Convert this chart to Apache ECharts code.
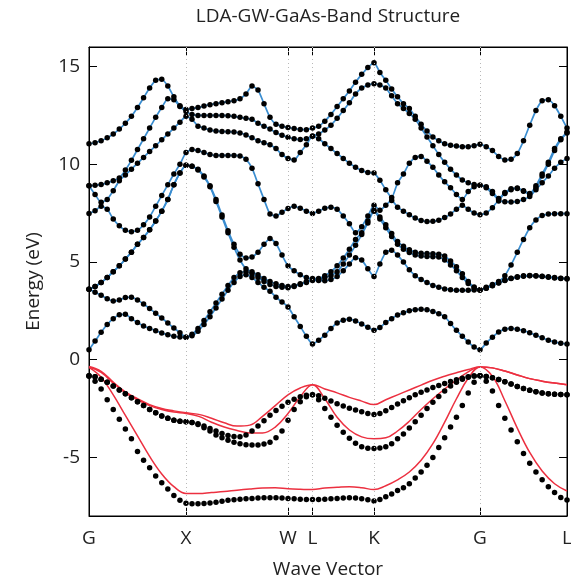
<!DOCTYPE html>
<html>
<head>
<meta charset="utf-8">
<script src="https://cdn.jsdelivr.net/npm/echarts@6/dist/echarts.min.js"></script>
<style>
  html, body { margin: 0; padding: 0; background: #fff; }
  #chart { width: 571px; height: 581px; }
</style>
</head>
<body>
<div id="chart"></div>
<script>
// k-path: high-symmetry points and their distances along the path
const kNodes = [0, 0.97, 1.99, 2.235, 2.85, 3.91, 4.78];
const kLabels = ['G', 'X', 'W', 'L', 'K', 'G', 'L'];
// number of k-intervals per path segment (G-X, X-W, W-L, L-K, K-G, G-L)
const gwSteps = [16, 17, 4, 10, 18, 14];
const ldaSteps = [8, 8, 2, 5, 9, 7];
const energyTicks = [-5, 0, 5, 10, 15];

// GW bands (eV), sampled on the gwSteps k-grid
const vb1 = [-0.85,-1.1,-1.5,-2.05,-2.55,-3.05,-3.55,-4.05,-4.7,-5.15,-5.53,-5.95,-6.3,-6.62,-6.95,-7.2,-7.35,
  -7.37,-7.37,-7.36,-7.33,-7.3,-7.25,-7.2,-7.17,-7.14,-7.12,-7.1,-7.08,-7.07,-7.06,-7.07,-7.08,-7.1,
  -7.12,-7.14,-7.15,-7.15,
  -7.15,-7.14,-7.12,-7.1,-7.08,-7.07,-7.08,-7.12,-7.17,-7.23,
  -7.15,-7.02,-6.88,-6.7,-6.55,-6.35,-6.05,-5.75,-5.4,-5.0,-4.5,-4.0,-3.45,-2.95,-2.35,-1.7,-1.15,-0.82,
  -1.1,-1.6,-2.35,-3.0,-3.6,-4.2,-4.8,-5.3,-5.75,-6.15,-6.5,-6.8,-7.05,-7.18];
const vb2 = [-0.82,-0.88,-1.0,-1.15,-1.35,-1.55,-1.75,-1.95,-2.15,-2.35,-2.55,-2.72,-2.88,-3.0,-3.1,-3.15,-3.18,
  -3.22,-3.32,-3.48,-3.65,-3.85,-4.0,-4.12,-4.22,-4.3,-4.35,-4.37,-4.37,-4.32,-4.22,-4.0,-3.65,-3.1,
  -2.55,-2.15,-1.9,-1.79,
  -2.05,-2.5,-2.95,-3.35,-3.72,-4.02,-4.28,-4.45,-4.53,-4.55,
  -4.52,-4.45,-4.3,-4.05,-3.8,-3.5,-3.18,-2.85,-2.5,-2.18,-1.88,-1.6,-1.35,-1.15,-1.0,-0.9,-0.84,-0.82,
  -0.86,-0.92,-1.02,-1.13,-1.25,-1.37,-1.48,-1.57,-1.64,-1.7,-1.74,-1.77,-1.78,-1.79];
const vb3 = [-0.82,-0.88,-1.0,-1.15,-1.35,-1.55,-1.75,-1.95,-2.15,-2.35,-2.55,-2.72,-2.88,-3.0,-3.1,-3.15,-3.18,
  -3.22,-3.28,-3.4,-3.52,-3.65,-3.78,-3.88,-3.93,-3.95,-3.85,-3.65,-3.4,-3.12,-2.85,-2.6,-2.38,-2.18,
  -2.02,-1.9,-1.82,-1.79,
  -1.85,-1.98,-2.12,-2.25,-2.37,-2.48,-2.58,-2.67,-2.75,-2.81,
  -2.75,-2.62,-2.45,-2.27,-2.1,-1.95,-1.8,-1.67,-1.55,-1.43,-1.32,-1.22,-1.12,-1.03,-0.95,-0.88,-0.84,-0.82,
  -0.86,-0.92,-1.02,-1.13,-1.25,-1.37,-1.48,-1.57,-1.64,-1.7,-1.74,-1.77,-1.78,-1.79];

const cb1 = [0.51,0.95,1.4,1.8,2.1,2.3,2.32,2.1,1.9,1.72,1.6,1.48,1.36,1.27,1.2,1.16,1.15,
  1.22,1.45,1.8,2.2,2.65,3.1,3.55,3.95,4.25,4.35,4.2,3.95,3.7,3.5,3.2,2.95,2.7,
  2.2,1.7,1.2,0.8,
  1.0,1.25,1.6,1.88,2.02,2.07,1.98,1.83,1.66,1.5,
  1.65,1.9,2.1,2.28,2.4,2.5,2.56,2.58,2.55,2.47,2.35,2.2,1.85,1.5,1.2,0.9,0.65,0.51,
  0.85,1.15,1.42,1.56,1.6,1.56,1.48,1.38,1.25,1.12,1.0,0.9,0.84,0.8];
const cb2 = [3.6,3.45,3.3,3.12,3.0,3.05,3.18,3.2,3.05,2.85,2.62,2.38,2.13,1.88,1.62,1.38,1.15,
  1.3,1.6,2.0,2.45,2.9,3.35,3.8,4.2,4.45,4.5,4.4,4.2,4.0,3.85,3.75,3.7,3.68,
  3.75,3.85,3.95,4.05,
  4.05,4.04,4.1,4.25,4.55,4.9,5.22,5.1,4.65,4.25,
  4.9,5.5,5.6,5.35,5.0,4.6,4.3,4.1,3.95,3.8,3.7,3.62,3.58,3.55,3.55,3.55,3.56,3.57,
  3.65,3.78,3.92,4.05,4.15,4.22,4.27,4.29,4.28,4.25,4.22,4.18,4.15,4.13];
const cb3 = [3.6,3.75,3.95,4.2,4.5,4.8,5.15,5.5,5.9,6.25,6.65,7.1,7.6,8.2,8.95,9.55,9.95,
  9.9,9.7,9.35,8.85,8.1,7.3,6.5,5.75,5.1,4.65,4.5,4.35,4.15,4.0,3.88,3.8,3.75,
  3.78,3.88,4.0,4.1,
  4.1,4.2,4.3,4.5,4.9,5.35,5.85,6.4,7.0,7.6,
  7.2,6.75,6.3,5.9,5.65,5.48,5.35,5.3,5.28,5.27,5.25,5.1,4.85,4.55,4.2,3.9,3.68,3.57,
  3.66,3.8,3.94,4.07,4.17,4.24,4.29,4.31,4.3,4.27,4.24,4.2,4.17,4.15];
const cb4 = [3.6,3.75,3.95,4.2,4.5,4.8,5.15,5.5,5.9,6.25,6.65,7.1,7.6,8.2,8.95,9.55,9.95,
  9.9,9.75,9.4,8.9,8.2,7.4,6.6,5.9,5.4,5.2,5.25,5.5,5.9,6.2,5.95,5.35,4.8,
  4.55,4.35,4.2,4.15,
  4.15,4.3,4.5,4.8,5.2,5.65,6.15,6.5,7.1,7.65,
  7.3,6.9,6.45,6.05,5.8,5.62,5.5,5.45,5.43,5.42,5.4,5.3,5.05,4.75,4.4,4.0,3.72,3.57,
  3.7,3.85,4.0,4.3,4.85,5.5,6.15,6.75,7.15,7.38,7.45,7.47,7.47,7.47];
const cb5 = [7.48,7.62,7.85,7.7,7.2,6.85,6.62,6.55,6.62,6.9,7.3,7.85,8.4,8.95,9.5,10.0,10.6,
  10.75,10.7,10.6,10.5,10.45,10.45,10.45,10.45,10.42,10.25,9.8,9.0,8.2,7.45,7.35,7.55,7.74,
  7.85,7.75,7.6,7.48,
  7.6,7.75,7.8,7.7,7.35,6.95,6.5,6.8,7.35,7.9,
  7.65,7.9,8.15,7.8,7.6,7.42,7.25,7.12,7.07,7.08,7.14,7.27,7.45,7.7,7.9,7.7,7.5,7.42,
  7.5,7.78,8.12,8.08,8.07,8.1,8.2,8.35,8.7,9.05,9.4,9.8,10.1,10.3];
const cb6 = [8.9,8.45,8.05,8.2,8.65,9.15,9.45,9.75,10.05,10.35,10.65,10.95,11.25,11.55,11.85,12.15,12.45,
  12.3,11.95,11.85,11.75,11.7,11.68,11.66,11.65,11.6,11.5,11.35,11.2,11.1,11.0,10.8,10.5,10.3,
  10.22,10.6,11.0,11.43,
  11.3,11.05,10.8,10.55,10.3,10.05,9.85,9.68,9.58,9.55,
  9.18,8.7,8.3,9.05,9.5,10.05,10.35,10.4,10.15,9.85,9.45,9.1,8.8,8.45,8.2,8.6,8.85,8.93,
  8.8,8.5,8.2,8.5,8.7,8.76,8.62,8.45,8.8,9.4,10.0,10.7,11.25,11.6];
const cb7 = [8.9,8.92,8.97,9.05,9.15,9.3,9.7,10.2,10.75,11.3,11.85,12.4,12.9,13.35,13.3,12.95,12.7,
  12.55,12.5,12.5,12.5,12.5,12.5,12.48,12.45,12.4,12.35,12.3,12.1,11.95,11.8,11.62,11.48,11.38,
  11.3,11.27,11.3,11.45,
  11.55,11.75,12.0,12.35,12.75,13.15,13.6,13.9,14.05,14.12,
  14.05,13.9,13.5,13.1,12.85,12.6,12.3,11.85,11.4,10.95,10.5,10.1,9.75,9.45,9.2,9.05,8.96,8.93,
  8.85,8.6,8.25,8.55,8.74,8.78,8.65,8.5,8.9,9.5,10.1,10.8,11.3,11.65];
const cb8 = [11.05,11.1,11.2,11.35,11.55,11.8,12.1,12.45,12.9,13.4,13.9,14.3,14.35,14.0,13.45,13.0,12.8,
  12.85,12.9,12.98,13.05,13.1,13.15,13.2,13.25,13.35,13.6,14.0,13.8,13.1,12.4,12.05,11.95,11.88,
  11.83,11.78,11.77,11.85,
  11.95,12.2,12.55,12.95,13.35,13.75,14.2,14.6,14.95,15.2,
  14.7,14.3,13.85,13.45,13.1,12.85,12.45,12.05,11.7,11.4,11.2,11.05,10.97,10.93,10.9,10.9,10.95,11.02,
  10.9,10.7,10.4,10.22,10.25,10.55,11.2,12.0,12.75,13.25,13.3,13.0,12.45,11.85];

// LDA valence bands (eV), sampled on the ldaSteps k-grid
const ldaVb1 = [-0.4,-0.9,-1.8,-2.85,-3.9,-4.95,-5.85,-6.5,-6.85,
  -6.85,-6.8,-6.75,-6.68,-6.62,-6.57,-6.55,-6.6,
  -6.63,-6.65,
  -6.57,-6.53,-6.5,-6.55,-6.65,
  -6.45,-6.15,-5.75,-5.15,-4.3,-3.2,-2.0,-0.95,-0.37,
  -0.85,-2.1,-3.5,-4.75,-5.7,-6.35,-6.72];
const ldaVb2 = [-0.38,-0.65,-1.2,-1.7,-2.05,-2.35,-2.55,-2.68,-2.75,
  -2.9,-3.2,-3.45,-3.62,-3.75,-3.75,-3.45,-2.75,
  -1.9,-1.28,
  -2.0,-2.95,-3.6,-3.95,-4.05,
  -4.0,-3.65,-3.15,-2.55,-2.0,-1.5,-1.05,-0.62,-0.37,
  -0.42,-0.58,-0.78,-0.97,-1.1,-1.2,-1.28];
const ldaVb3 = [-0.35,-0.6,-1.15,-1.65,-2.0,-2.3,-2.5,-2.62,-2.72,
  -2.8,-3.0,-3.23,-3.4,-3.35,-2.9,-2.35,-1.8,
  -1.45,-1.28,
  -1.5,-1.7,-1.93,-2.12,-2.3,
  -2.05,-1.8,-1.55,-1.3,-1.05,-0.85,-0.67,-0.5,-0.37,
  -0.42,-0.58,-0.78,-0.97,-1.1,-1.2,-1.28];

const gwBands = [cb1, cb2, cb3, cb4, cb5, cb6, cb7, cb8];
const gwValence = [vb1, vb2, vb3];
const ldaValence = [ldaVb1, ldaVb2, ldaVb3];

function pathGrid(steps) {
  const ks = [kNodes[0]];
  steps.forEach((n, s) => {
    const a = kNodes[s], b = kNodes[s + 1];
    for (let i = 1; i <= n; i++) ks.push(a + (b - a) * i / n);
  });
  return ks;
}
const gwK = pathGrid(gwSteps);
const ldaK = pathGrid(ldaSteps);
const pair = (ks, es) => es.map((e, i) => [ks[i], e]);

const FONT = 'Open Sans, DejaVu Sans, sans-serif';
const BLUE = '#3a8dd0';
const RED = '#ec3040';
const FS = 19;

const series = [];
gwBands.forEach((band, i) => {
  const s = {
    type: 'line', data: pair(gwK, band), showSymbol: false, smooth: 0.2,
    lineStyle: { color: BLUE, width: 1.7 }, z: 2, silent: true
  };
  if (i === 0) {
    s.markLine = {
      silent: true, symbol: ['none', 'none'], label: { show: false },
      lineStyle: { color: '#b8b8b8', type: [1, 3], width: 1 },
      data: kNodes.slice(1, -1).map(k => ({ xAxis: k }))
    };
  }
  series.push(s);
});
ldaValence.forEach(band => {
  series.push({
    type: 'line', data: pair(ldaK, band), showSymbol: false, smooth: 0.4,
    lineStyle: { color: RED, width: 1.5 }, z: 2, silent: true
  });
});
gwBands.concat(gwValence).forEach(band => {
  series.push({
    type: 'scatter', data: pair(gwK, band), symbolSize: 5.5,
    itemStyle: { color: '#000', opacity: 1 }, z: 4, silent: true
  });
});

function kLabel(v) {
  const i = kNodes.findIndex(k => Math.abs(k - v) < 1e-6);
  return i >= 0 ? kLabels[i] : '';
}

const chart = echarts.init(document.getElementById('chart'), null, { renderer: 'canvas' });
chart.setOption({
  animation: false,
  backgroundColor: '#fff',
  graphic: [{
    type: 'text', x: 328, y: 17,
    style: { text: 'LDA-GW-GaAs-Band Structure', fill: '#222', font: FS + 'px ' + FONT,
             textAlign: 'center', textVerticalAlign: 'middle' }
  }],
  grid: { left: 89, right: 4, top: 47, bottom: 65, containLabel: false,
          outerBoundsMode: 'none',
          show: true, borderColor: '#000', borderWidth: 1 },
  xAxis: [{
    type: 'value', min: 0, max: kNodes[kNodes.length - 1], position: 'bottom',
    name: 'Wave Vector', nameLocation: 'middle', nameGap: 44,
    nameTextStyle: { fontSize: FS, color: '#222', fontFamily: FONT },
    axisLine: { show: true, onZero: false, lineStyle: { color: '#000', width: 1 } },
    axisTick: { show: true, inside: true, length: 8, customValues: kNodes.slice(1, -1),
                lineStyle: { color: '#000' } },
    axisLabel: { customValues: kNodes, formatter: kLabel, margin: 13, fontSize: FS,
                 color: '#222', fontFamily: FONT },
    splitLine: { show: false }
  }, {
    type: 'value', min: 0, max: kNodes[kNodes.length - 1], position: 'top',
    axisLine: { show: true, onZero: false, lineStyle: { color: '#000', width: 1 } },
    axisTick: { show: true, inside: true, length: 8, customValues: kNodes.slice(1, -1),
                lineStyle: { color: '#000' } },
    axisLabel: { show: false }, splitLine: { show: false }
  }],
  yAxis: [{
    type: 'value', min: -8, max: 16, position: 'left',
    name: 'Energy (eV)', nameLocation: 'middle', nameGap: 46,
    nameTextStyle: { fontSize: FS, color: '#222', fontFamily: FONT },
    axisLine: { show: true, onZero: false, lineStyle: { color: '#000', width: 1 } },
    axisTick: { show: true, inside: true, length: 8, customValues: energyTicks,
                lineStyle: { color: '#000' } },
    axisLabel: { customValues: energyTicks, margin: 9, fontSize: FS, color: '#222', fontFamily: FONT },
    splitLine: { show: false }
  }, {
    type: 'value', min: -8, max: 16, position: 'right',
    axisLine: { show: true, onZero: false, lineStyle: { color: '#000', width: 1 } },
    axisTick: { show: true, inside: true, length: 8, customValues: energyTicks,
                lineStyle: { color: '#000' } },
    axisLabel: { show: false }, splitLine: { show: false }
  }],
  series: series
});
</script>
</body>
</html>
